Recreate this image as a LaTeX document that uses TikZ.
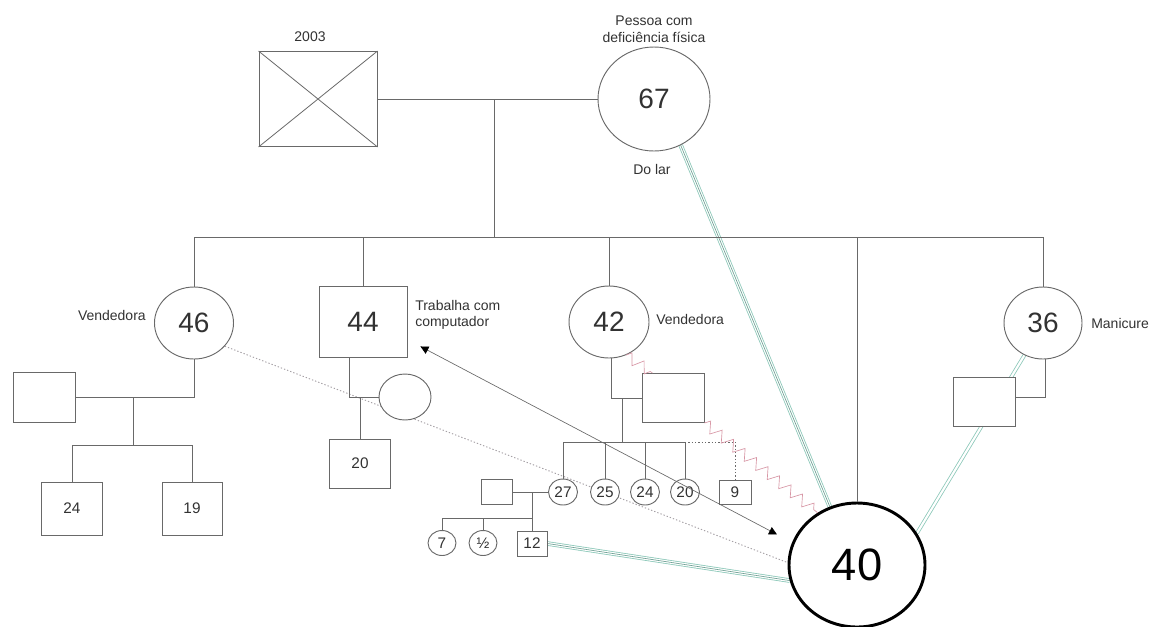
\documentclass[tikz,border=0pt]{standalone}
\usepackage{fontspec}
\setmainfont{Liberation Sans}
\usetikzlibrary{arrows.meta,decorations.pathmorphing,calc,shapes.geometric}
\pgfdeclarelayer{bg}
\pgfsetlayers{bg,main}
\definecolor{ln}{RGB}{105,105,105}
\definecolor{tx}{RGB}{50,50,50}
\definecolor{grn}{RGB}{140,200,185}
\definecolor{pnk}{RGB}{215,150,165}
\definecolor{dotc}{RGB}{165,160,165}
\tikzset{
  every node/.style={text=tx},
  rel/.style={draw=ln, line width=0.7pt},
  fem/.style={ellipse, draw=ln, line width=0.7pt, fill=white, inner sep=0pt},
  mal/.style={rectangle, draw=ln, line width=0.7pt, fill=white, inner sep=0pt},
  big/.style={font=\fontsize{21}{21}\selectfont},
  small/.style={font=\fontsize{11.5}{12}\selectfont},
  lab/.style={font=\fontsize{10.5}{12.5}\selectfont, inner sep=0pt},
  triple/.style={draw=grn, line width=0.6pt, double=white, double distance=2.2pt,
                 postaction={draw=grn!80!black, line width=0.5pt}},
  dbl/.style={draw=grn, line width=0.6pt, double=white, double distance=1.6pt},
  zz/.style={draw=pnk, line width=0.5pt, decorate,
             decoration={zigzag, segment length=11pt, amplitude=4pt}},
  dotline/.style={draw=dotc, line width=0.7pt, dash pattern=on 1pt off 1.5pt},
}
\begin{document}
\begin{tikzpicture}[x=0.75pt,y=-0.75pt]
\useasboundingbox (0,0) rectangle (1152,626);

% generation 1
\node[mal, minimum width=88.5pt, minimum height=71.25pt] (dead) at (318,99) {};
\draw[ln, line width=0.6pt] (dead.north west) -- (dead.south east) (dead.north east) -- (dead.south west);
\node[lab, font=\fontsize{10.5}{12}\selectfont] (y2003) at (310,37) {2003};
\node[fem, minimum width=84pt, minimum height=78pt, big] (m67) at (654,99) {67};
\node[lab, align=center] (l67a) at (654,29) {Pessoa com\\deficiência física};
\node[lab] (l67b) at (652,169) {Do lar};

% generation 2
\node[fem, minimum width=59.25pt, minimum height=54pt, big] (m46) at (194,323) {46};
\node[lab, anchor=east] (l46) at (146,315) {Vendedora};
\node[mal, minimum width=66pt, minimum height=53.25pt, big] (f44) at (363,321.5) {44};
\node[lab, anchor=west, align=left] (l44) at (415,315) {Trabalha com\\computador};
\node[fem, minimum width=60pt, minimum height=54pt, big] (m42) at (609,322) {42};
\node[lab, anchor=west] (l42) at (656,319) {Vendedora};
\node[fem, minimum width=58.5pt, minimum height=54pt, big] (m36) at (1043,323) {36};
\node[lab, anchor=west] (l36) at (1091,323) {Manicure};
\node[fem, minimum width=102pt, minimum height=93pt, line width=2.2pt, draw=black,
      font=\fontsize{34}{34}\selectfont, text=black] (m40) at (857,565) {40};

% spouses
\node[mal, minimum width=46.5pt, minimum height=37.5pt] (s46) at (44,397) {};
\node[fem, minimum width=39pt, minimum height=34.5pt] (s44) at (405,397) {};
\node[mal, minimum width=46.5pt, minimum height=36.75pt] (s42) at (673,398) {};
\node[mal, minimum width=46.5pt, minimum height=36.75pt] (s36) at (984,401.5) {};

% generation 3
\node[mal, minimum width=45.75pt, minimum height=39.75pt, small] (b24) at (72,508.5) {24};
\node[mal, minimum width=45pt, minimum height=39.75pt, small] (b19) at (192,508.5) {19};
\node[mal, minimum width=45.75pt, minimum height=36.75pt, small] (b20) at (360,463.5) {20};
\node[fem, minimum width=21.75pt, minimum height=19.5pt, small] (c27) at (563,492) {27};
\node[fem, minimum width=21.75pt, minimum height=19.5pt, small] (c25) at (605,492) {25};
\node[fem, minimum width=21.75pt, minimum height=19.5pt, small] (c24) at (645,492) {24};
\node[fem, minimum width=21.75pt, minimum height=19.5pt, small] (c20) at (685,492) {20};
\node[mal, minimum width=24pt, minimum height=18pt, small] (b9) at (735,492) {9};
\node[mal, minimum width=23.25pt, minimum height=18.75pt] (s27) at (496.5,492) {};

% generation 4
\node[fem, minimum width=21pt, minimum height=18.75pt, small] (c7) at (442,543) {7};
\node[fem, minimum width=21pt, minimum height=18.75pt, small] (ch) at (483,543) {½};
\node[mal, minimum width=22.5pt, minimum height=18.75pt, small] (b12) at (532,543.5) {12};

% family lines
\coordinate (mar1) at (494,99);
\coordinate (sib) at (494,237);
\draw[rel] (dead.east) -- (m67.west);
\draw[rel] (mar1) -- (sib);
\draw[rel] (m46.north) -- (m46.north |- sib) -- (m36.north |- sib) -- (m36.north);
\draw[rel] (f44.north) -- (f44.north |- sib);
\draw[rel] (m42.north) -- (m42.north |- sib);
\draw[rel] (m40.north) -- (m40.north |- sib);

% 46 family
\coordinate (d46) at (133,397);
\coordinate (c46) at (133,445);
\draw[rel] (m46.south) |- (s46.east);
\draw[rel] (d46) -- (c46);
\draw[rel] (b24.north) |- (c46) -| (b19.north);

% 44 family
\coordinate (d44) at (349,397);
\draw[rel] (f44.south -| d44) -- (d44) -- (s44.west);
\draw[rel] (b20.north) -- (b20.north |- d44);

% 42 family
\coordinate (d42) at (611,398);
\coordinate (c42) at (622,442);
\draw[rel] (m42.south -| d42) -- (d42) -- (s42.west);
\draw[rel] (c42 |- d42) -- (c42);
\draw[rel] (c27.north) |- (c42) -| (c20.north);
\draw[rel] (c25.north) -- (c25.north |- c42);
\draw[rel] (c24.north) -- (c24.north |- c42);
\draw[dotline, draw=ln] (c20.north |- c42) -| (b9.north);

% 27 family
\coordinate (d27) at (532,492);
\coordinate (e27) at (532,518);
\draw[rel] (s27.east) -- (c27.west);
\draw[rel] (d27) -- (e27);
\draw[rel] (c7.north) |- (e27) -- (b12.north);
\draw[rel] (ch.north) -- (ch.north |- e27);

% 36 family
\coordinate (d36) at (1045,397);
\draw[rel] (m36.south -| d36) -- (d36) -- (s36.east |- d36);

% emotional relationships (behind)
\begin{pgfonlayer}{bg}
\draw[triple] (m67.300) -- (m40.115);
\draw[triple] (b12.east) -- (m40.193);
\draw[dbl] (m36.240) -- (m40.28);
\draw[dotline] (m46.323) -- (m40.178);
\end{pgfonlayer}
\draw[zz] (m42.297) -- ($(s42.north west)+(11,0)$);
\draw[zz] (s42.south east) -- (m40.127);
\draw[ln, line width=0.5pt, {Triangle[width=6pt,length=6pt,color=black]}-{Triangle[width=6pt,length=6pt,color=black]}]
  ($(f44.south east)+(13,-11)$) -- ($(m40.159)+(-16,-6)$);
\end{tikzpicture}
\end{document}
